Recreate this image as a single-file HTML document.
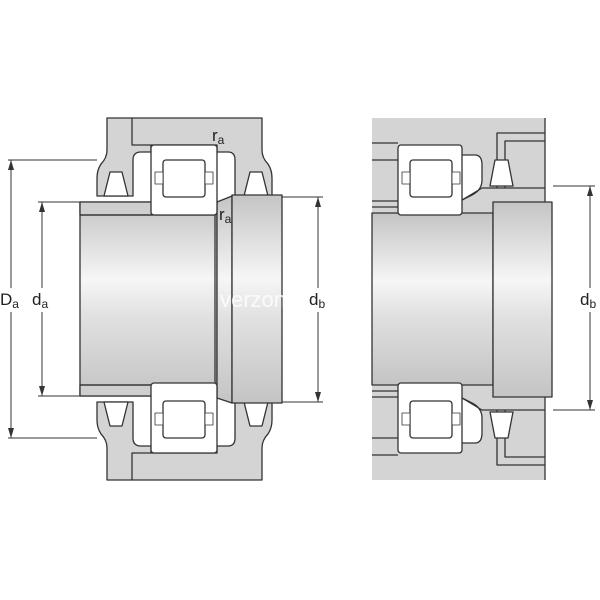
<!DOCTYPE html>
<html><head><meta charset="utf-8"><style>html,body{margin:0;padding:0;background:#fff}svg{display:block}</style></head><body>
<svg width="600" height="600" viewBox="0 0 600 600" xmlns="http://www.w3.org/2000/svg" font-family="Liberation Sans, sans-serif">
<defs>
<linearGradient id="g" x1="0" y1="0" x2="0" y2="1">
<stop offset="0" stop-color="#c4c4c4"/><stop offset="0.4" stop-color="#f6f6f6"/><stop offset="0.6" stop-color="#e0e0e0"/><stop offset="1" stop-color="#c4c4c4"/></linearGradient>
</defs>
<g stroke="#333" stroke-width="1.3" stroke-linejoin="round">
<!-- LEFT housing top -->
<path id="ht" d="M107 118 L262 118 L262 150 Q262 158 268 164 Q272 170 272 178 L272 196 L235 196 L235 160 Q235 152 228 152 L217 152 L217 145 L151 145 L151 152 L141 152 Q133 152 133 160 L133 196 L97 196 L97 178 Q97 170 101 164 Q107 158 107 150 Z" fill="#d4d4d4"/>
<path d="M132 118 L132 145 L151 145" fill="none"/>
<!-- LEFT housing bottom (mirror) -->
<g transform="translate(0,598) scale(1,-1)">
<path d="M107 118 L262 118 L262 150 Q262 158 268 164 Q272 170 272 178 L272 196 L235 196 L235 160 Q235 152 228 152 L217 152 L217 145 L151 145 L151 152 L141 152 Q133 152 133 160 L133 196 L97 196 L97 178 Q97 170 101 164 Q107 158 107 150 Z" fill="#d4d4d4"/>
<path d="M132 118 L132 145 L151 145" fill="none"/>
<path d="M104 196 L110 172 L122 172 L128 196 Z" fill="#fff"/>
<path d="M244 196 L250 172 L262 172 L268 196 Z" fill="#fff"/>
</g>
<!-- seals left top -->
<path d="M104 196 L110 172 L122 172 L128 196 Z" fill="#fff"/>
<path d="M244 196 L250 172 L262 172 L268 196 Z" fill="#fff"/>
<!-- shaft left -->
<rect x="80" y="202" width="137" height="194" fill="url(#g)"/>
<path d="M80 202 L152 202 L152 215 L80 215 Z" fill="#cfcfcf"/>
<path d="M80 385 L152 385 L152 396 L80 396 Z" fill="#cfcfcf"/>
<path d="M80 215 L215 215 L215 385 L80 385" fill="none"/>
<path d="M217 202 L232 196 L232 403 L217 398 Z" fill="url(#g)"/>
<rect x="232" y="195" width="50" height="208" fill="url(#g)"/>
<!-- bearing left -->
<rect x="151" y="145" width="66" height="70" rx="3" fill="#fff"/>
<rect x="163" y="160" width="42" height="37" rx="3" fill="#fff"/>
<rect x="155" y="172" width="8" height="12" fill="#fff" stroke-width="0.8"/>
<rect x="205" y="172" width="8" height="12" fill="#fff" stroke-width="0.8"/>
<rect x="151" y="383" width="66" height="70" rx="3" fill="#fff"/>
<rect x="163" y="401" width="42" height="37" rx="3" fill="#fff"/>
<rect x="155" y="413" width="8" height="12" fill="#fff" stroke-width="0.8"/>
<rect x="205" y="413" width="8" height="12" fill="#fff" stroke-width="0.8"/>

<!-- RIGHT -->
<rect x="372" y="118" width="173" height="362" fill="#d4d4d4" stroke="none"/>
<path d="M545 118 L545 480" fill="none"/>
<path d="M372 143 L398 143 M372 160 L398 160 M372 201 L398 201 M372 207 L398 207 M372 391 L398 391 M372 397 L398 397 M372 438 L398 438 M372 455 L398 455" fill="none"/>
<path d="M462 155 L475 155 Q482 155 482 165 L482 180 Q482 190 472 195 L462 200" fill="#fff"/>
<path d="M462 443 L475 443 Q482 443 482 433 L482 418 Q482 408 472 403 L462 398" fill="#fff"/>
<path d="M497 188 L497 133 L545 133 M505 188 L505 141 L545 141" fill="none"/>
<path d="M497 410 L497 465 L545 465 M505 410 L505 457 L545 457" fill="none"/>
<path d="M490 186 L495 160 L508 160 L513 186 Z" fill="#fff"/>
<path d="M490 412 L495 438 L508 438 L513 412 Z" fill="#fff"/>
<path d="M462 200 L482 188 L545 188 M462 398 L482 410 L545 410" fill="none"/>
<rect x="372" y="213" width="121" height="172" fill="url(#g)"/>
<rect x="493" y="202" width="59" height="195" fill="url(#g)"/>
<rect x="398" y="145" width="64" height="70" rx="3" fill="#fff"/>
<rect x="410" y="160" width="42" height="37" rx="3" fill="#fff"/>
<rect x="402" y="172" width="8" height="12" fill="#fff" stroke-width="0.8"/>
<rect x="452" y="172" width="8" height="12" fill="#fff" stroke-width="0.8"/>
<rect x="398" y="383" width="64" height="70" rx="3" fill="#fff"/>
<rect x="410" y="401" width="42" height="37" rx="3" fill="#fff"/>
<rect x="402" y="413" width="8" height="12" fill="#fff" stroke-width="0.8"/>
<rect x="452" y="413" width="8" height="12" fill="#fff" stroke-width="0.8"/>
</g>

<!-- dimension lines -->
<g stroke="#333" stroke-width="1" fill="none">
<path d="M8 160 L97 160 M8 438 L97 438 M11 160 L11 288 M11 312 L11 438"/>
<path d="M38 202 L80 202 M38 396 L80 396 M42 202 L42 288 M42 312 L42 396"/>
<path d="M282 197 L323 197 M282 402 L323 402 M318 197 L318 288 M318 312 L318 402"/>
<path d="M553 186 L595 186 M553 410 L595 410 M590 186 L590 288 M590 312 L590 410"/>
</g>
<g fill="#333">
<path d="M11 160 l-3 10 h6z M11 438 l-3 -10 h6z"/>
<path d="M42 202 l-3 10 h6z M42 396 l-3 -10 h6z"/>
<path d="M318 197 l-3 10 h6z M318 402 l-3 -10 h6z"/>
<path d="M590 186 l-3 10 h6z M590 410 l-3 -10 h6z"/>
</g>
<g font-size="17" fill="#222">
<text x="0" y="305">D<tspan font-size="12" dy="3">a</tspan></text>
<text x="32" y="305">d<tspan font-size="12" dy="3">a</tspan></text>
<text x="309" y="305">d<tspan font-size="12" dy="3">b</tspan></text>
<text x="580" y="305">d<tspan font-size="12" dy="3">b</tspan></text>
<text x="212" y="141">r<tspan font-size="12" dy="3">a</tspan></text>
<text x="219" y="220">r<tspan font-size="12" dy="3">a</tspan></text>
</g>
<text x="220" y="307" font-size="22" fill="#fff" opacity="0.8">verzon</text>
</svg>
</body></html>
